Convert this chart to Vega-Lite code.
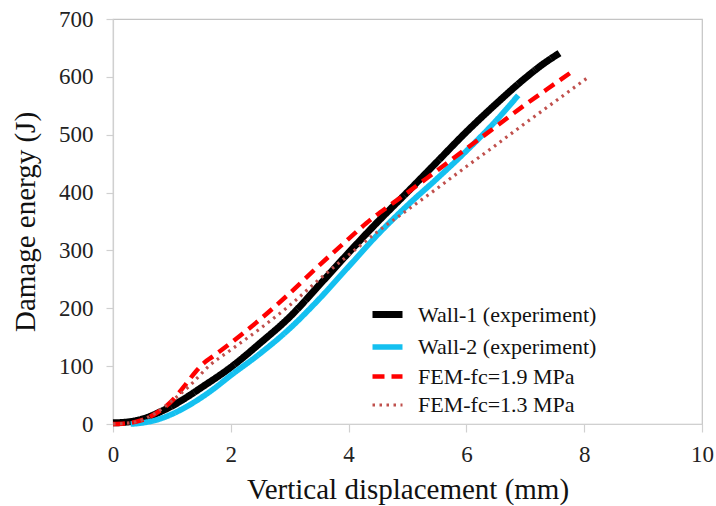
{
  "$schema": "https://vega.github.io/schema/vega-lite/v6.json",
  "width": 589,
  "height": 405,
  "autosize": "none",
  "padding": {"left": 113, "top": 19, "right": 14, "bottom": 82},
  "background": "white",
  "config": {
    "font": "Liberation Serif",
    "axis": {"labelFont": "Liberation Serif", "titleFont": "Liberation Serif"},
    "legend": {"labelFont": "Liberation Serif"},
    "view": {"stroke": "#c4c4c4", "strokeWidth": 1.2}
  },
  "data": {
    "values": [
      {"s": "Wall-1 (experiment)", "x": 0, "y": 2},
      {"s": "Wall-1 (experiment)", "x": 0.2, "y": 3},
      {"s": "Wall-1 (experiment)", "x": 0.4, "y": 6},
      {"s": "Wall-1 (experiment)", "x": 0.6, "y": 12},
      {"s": "Wall-1 (experiment)", "x": 0.8, "y": 21},
      {"s": "Wall-1 (experiment)", "x": 1, "y": 31},
      {"s": "Wall-1 (experiment)", "x": 1.2, "y": 43},
      {"s": "Wall-1 (experiment)", "x": 1.5, "y": 63},
      {"s": "Wall-1 (experiment)", "x": 2, "y": 98},
      {"s": "Wall-1 (experiment)", "x": 2.5, "y": 140},
      {"s": "Wall-1 (experiment)", "x": 3, "y": 185},
      {"s": "Wall-1 (experiment)", "x": 3.5, "y": 240},
      {"s": "Wall-1 (experiment)", "x": 4, "y": 296},
      {"s": "Wall-1 (experiment)", "x": 4.5, "y": 350},
      {"s": "Wall-1 (experiment)", "x": 5, "y": 401},
      {"s": "Wall-1 (experiment)", "x": 5.5, "y": 453},
      {"s": "Wall-1 (experiment)", "x": 6, "y": 505},
      {"s": "Wall-1 (experiment)", "x": 6.5, "y": 553},
      {"s": "Wall-1 (experiment)", "x": 7, "y": 598},
      {"s": "Wall-1 (experiment)", "x": 7.3, "y": 622},
      {"s": "Wall-1 (experiment)", "x": 7.58, "y": 641},
      {"s": "Wall-2 (experiment)", "x": 0.3, "y": 0},
      {"s": "Wall-2 (experiment)", "x": 0.5, "y": 2},
      {"s": "Wall-2 (experiment)", "x": 0.8, "y": 9},
      {"s": "Wall-2 (experiment)", "x": 1, "y": 17},
      {"s": "Wall-2 (experiment)", "x": 1.3, "y": 33},
      {"s": "Wall-2 (experiment)", "x": 1.7, "y": 60},
      {"s": "Wall-2 (experiment)", "x": 2, "y": 84},
      {"s": "Wall-2 (experiment)", "x": 2.5, "y": 122},
      {"s": "Wall-2 (experiment)", "x": 3, "y": 165},
      {"s": "Wall-2 (experiment)", "x": 3.5, "y": 216},
      {"s": "Wall-2 (experiment)", "x": 4, "y": 272},
      {"s": "Wall-2 (experiment)", "x": 4.5, "y": 328},
      {"s": "Wall-2 (experiment)", "x": 5, "y": 378},
      {"s": "Wall-2 (experiment)", "x": 5.5, "y": 424},
      {"s": "Wall-2 (experiment)", "x": 6, "y": 472},
      {"s": "Wall-2 (experiment)", "x": 6.5, "y": 524},
      {"s": "Wall-2 (experiment)", "x": 6.88, "y": 568},
      {"s": "FEM-fc=1.9 MPa", "x": 0, "y": 0},
      {"s": "FEM-fc=1.9 MPa", "x": 0.2, "y": 1},
      {"s": "FEM-fc=1.9 MPa", "x": 0.4, "y": 4},
      {"s": "FEM-fc=1.9 MPa", "x": 0.6, "y": 11},
      {"s": "FEM-fc=1.9 MPa", "x": 0.8, "y": 23},
      {"s": "FEM-fc=1.9 MPa", "x": 1, "y": 40},
      {"s": "FEM-fc=1.9 MPa", "x": 1.2, "y": 64},
      {"s": "FEM-fc=1.9 MPa", "x": 1.4, "y": 90},
      {"s": "FEM-fc=1.9 MPa", "x": 1.55, "y": 106},
      {"s": "FEM-fc=1.9 MPa", "x": 1.7, "y": 117},
      {"s": "FEM-fc=1.9 MPa", "x": 2, "y": 140},
      {"s": "FEM-fc=1.9 MPa", "x": 2.2, "y": 156},
      {"s": "FEM-fc=1.9 MPa", "x": 2.5, "y": 181},
      {"s": "FEM-fc=1.9 MPa", "x": 3, "y": 226},
      {"s": "FEM-fc=1.9 MPa", "x": 3.5, "y": 274},
      {"s": "FEM-fc=1.9 MPa", "x": 4, "y": 320},
      {"s": "FEM-fc=1.9 MPa", "x": 4.3, "y": 347},
      {"s": "FEM-fc=1.9 MPa", "x": 4.7, "y": 378},
      {"s": "FEM-fc=1.9 MPa", "x": 5, "y": 400},
      {"s": "FEM-fc=1.9 MPa", "x": 5.5, "y": 438},
      {"s": "FEM-fc=1.9 MPa", "x": 6, "y": 476},
      {"s": "FEM-fc=1.9 MPa", "x": 6.5, "y": 514},
      {"s": "FEM-fc=1.9 MPa", "x": 7, "y": 552},
      {"s": "FEM-fc=1.9 MPa", "x": 7.5, "y": 588},
      {"s": "FEM-fc=1.9 MPa", "x": 7.85, "y": 613},
      {"s": "FEM-fc=1.3 MPa", "x": 0, "y": 0},
      {"s": "FEM-fc=1.3 MPa", "x": 0.2, "y": 1},
      {"s": "FEM-fc=1.3 MPa", "x": 0.4, "y": 4},
      {"s": "FEM-fc=1.3 MPa", "x": 0.6, "y": 12},
      {"s": "FEM-fc=1.3 MPa", "x": 0.8, "y": 24},
      {"s": "FEM-fc=1.3 MPa", "x": 1, "y": 40},
      {"s": "FEM-fc=1.3 MPa", "x": 1.3, "y": 66},
      {"s": "FEM-fc=1.3 MPa", "x": 1.65, "y": 102},
      {"s": "FEM-fc=1.3 MPa", "x": 2, "y": 128},
      {"s": "FEM-fc=1.3 MPa", "x": 2.5, "y": 165},
      {"s": "FEM-fc=1.3 MPa", "x": 3, "y": 205},
      {"s": "FEM-fc=1.3 MPa", "x": 3.5, "y": 250},
      {"s": "FEM-fc=1.3 MPa", "x": 4, "y": 292},
      {"s": "FEM-fc=1.3 MPa", "x": 4.5, "y": 333},
      {"s": "FEM-fc=1.3 MPa", "x": 5, "y": 370},
      {"s": "FEM-fc=1.3 MPa", "x": 5.5, "y": 407},
      {"s": "FEM-fc=1.3 MPa", "x": 6, "y": 445},
      {"s": "FEM-fc=1.3 MPa", "x": 6.5, "y": 482},
      {"s": "FEM-fc=1.3 MPa", "x": 7, "y": 520},
      {"s": "FEM-fc=1.3 MPa", "x": 7.5, "y": 557},
      {"s": "FEM-fc=1.3 MPa", "x": 8.05, "y": 598}
    ]
  },
  "mark": {"type": "line", "interpolate": "monotone", "strokeJoin": "round"},
  "encoding": {
    "x": {
      "field": "x", "type": "quantitative",
      "scale": {"domain": [0, 10], "nice": false},
      "axis": {
        "title": "Vertical displacement (mm)",
        "values": [0, 2, 4, 6, 8, 10],
        "grid": false,
        "labelFlush": false,
        "domainColor": "#d0d0d0", "domainWidth": 1.2,
        "tickColor": "#d0d0d0", "tickSize": 8, "tickWidth": 1.2,
        "labelFont": "Liberation Serif", "labelFontSize": 23, "labelColor": "#222",
        "labelPadding": 11,
        "titleFont": "Liberation Serif", "titleFontSize": 29, "titleFontWeight": "normal",
        "titleColor": "#111", "titlePadding": 9
      }
    },
    "y": {
      "field": "y", "type": "quantitative",
      "scale": {"domain": [0, 700], "nice": false},
      "axis": {
        "title": "Damage energy (J)",
        "values": [0, 100, 200, 300, 400, 500, 600, 700],
        "grid": false,
        "labelFlush": false,
        "domainColor": "#d0d0d0", "domainWidth": 1.2,
        "tickColor": "#d0d0d0", "tickSize": 7, "tickWidth": 1.2,
        "labelFont": "Liberation Serif", "labelFontSize": 23, "labelColor": "#222",
        "labelPadding": 13,
        "titleFont": "Liberation Serif", "titleFontSize": 29, "titleFontWeight": "normal",
        "titleColor": "#111", "titlePadding": 18
      }
    },
    "color": {
      "field": "s", "type": "nominal",
      "scale": {
        "domain": ["Wall-1 (experiment)", "Wall-2 (experiment)", "FEM-fc=1.9 MPa", "FEM-fc=1.3 MPa"],
        "range": ["#000000", "#14C0F0", "#FF0000", "#C0504D"]
      },
      "legend": {
        "title": null,
        "orient": "none",
        "legendX": 256,
        "legendY": 277,
        "symbolType": "stroke",
        "symbolSize": 900,
        "labelFont": "Liberation Serif",
        "labelFontSize": 22,
        "labelColor": "#111",
        "labelLimit": 0,
        "labelOffset": 12,
        "rowPadding": -1,
        "padding": 0
      }
    },
    "strokeDash": {
      "field": "s", "type": "nominal",
      "scale": {
        "domain": ["Wall-1 (experiment)", "Wall-2 (experiment)", "FEM-fc=1.9 MPa", "FEM-fc=1.3 MPa"],
        "range": [[1, 0], [1, 0], [12, 7], [2.5, 4.5]]
      },
      "legend": null
    },
    "strokeWidth": {
      "field": "s", "type": "nominal",
      "scale": {
        "domain": ["Wall-1 (experiment)", "Wall-2 (experiment)", "FEM-fc=1.9 MPa", "FEM-fc=1.3 MPa"],
        "range": [7, 3.2, 4.5, 2.5]
      },
      "legend": null
    }
  }
}
